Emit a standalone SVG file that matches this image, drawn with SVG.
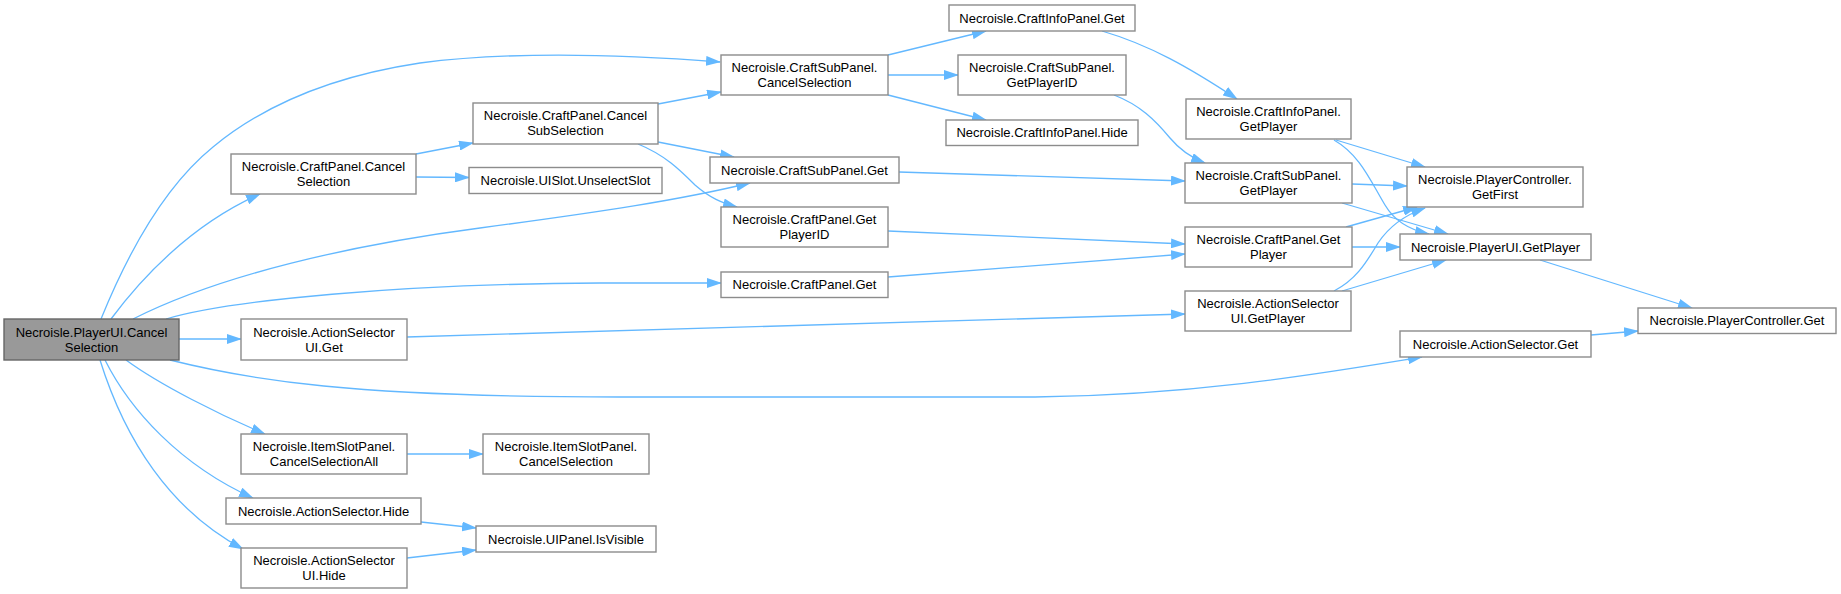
<svg xmlns="http://www.w3.org/2000/svg" width="1841" height="594" viewBox="0 0 1841 594">
<style>
.n rect{fill:#fff;stroke:#8c8c8c;stroke-width:1.4}
.root rect{fill:#999;stroke:#666}
text{font-family:"Liberation Sans",Arial,sans-serif;font-size:13px;fill:#000;text-anchor:middle}
.e path{fill:none;stroke:#63b8ff;stroke-width:1.3;marker-end:url(#ah)}
</style>
<defs>
<marker id="ah" markerUnits="userSpaceOnUse" markerWidth="15" markerHeight="10" refX="14" refY="5" orient="auto"><path d="M0,0 L15,5 L0,10 z" fill="#63b8ff"/></marker>
</defs>
<rect width="1841" height="594" fill="#fff"/>
<g class="e" id="edges">
<path d="M101,319 C125,260 160,190 213,147 C270,100 340,75 420,63 C520,50 630,55 720,62"/>
<path d="M111,319 C140,280 190,225 260,194"/>
<path d="M133,319 C220,275 350,245 480,228 C600,212 680,200 750,183"/>
<path d="M166,319 C230,300 400,284 600,283 L721,283"/>
<path d="M179,339 L241,339"/>
<path d="M170,360 C250,380 350,397 620,397 L1035,397 C1200,395 1330,372 1422,357"/>
<path d="M126,360 C160,385 220,415 265,434"/>
<path d="M105,360 C130,410 180,465 253,498"/>
<path d="M100,360 C125,440 170,510 243,549"/>
<path d="M416,154 L473,143"/>
<path d="M416,177 L469,177.5"/>
<path d="M658,104 L721,92"/>
<path d="M658,142 L734,157"/>
<path d="M638,144 C665,155 680,170 695,185 C710,198 722,203 737,207"/>
<path d="M888,55 L986,31"/>
<path d="M888,75 L958,75"/>
<path d="M888,95 L986,120"/>
<path d="M1102,31 C1150,45 1190,68 1237,99"/>
<path d="M1114,95 C1140,105 1155,120 1170,138 C1180,150 1192,158 1205,163"/>
<path d="M899,172 L1185,181"/>
<path d="M888,231 L1185,244"/>
<path d="M888,277 L1185,254"/>
<path d="M407,337 L1185,314"/>
<path d="M1336,140 L1425,167"/>
<path d="M1334,140 C1360,155 1370,180 1385,205 C1395,222 1410,230 1429,234"/>
<path d="M1352,184 L1407,186"/>
<path d="M1342,203 L1448,234"/>
<path d="M1346,227 L1417,207"/>
<path d="M1352,247 L1400,247"/>
<path d="M1334,291 C1355,280 1365,265 1378,243 C1390,225 1405,215 1425,208"/>
<path d="M1342,291 L1446,260"/>
<path d="M1540,260 L1692,308"/>
<path d="M1591,335 L1638,331"/>
<path d="M407,454 L483,454"/>
<path d="M421,522 L476,528"/>
<path d="M407,558 L476,550"/>
</g>
<g class="n root" id="n_PlayerUI_CancelSelection"><rect x="4" y="319" width="175" height="41"/><text x="91.5" y="336.5">Necroisle.PlayerUI.Cancel</text><text x="91.5" y="351.5">Selection</text></g>
<g class="n" id="n_CraftPanel_CancelSelection"><rect x="231" y="154" width="185" height="40"/><text x="323.5" y="170.5">Necroisle.CraftPanel.Cancel</text><text x="323.5" y="185.5">Selection</text></g>
<g class="n" id="n_CraftPanel_CancelSubSelection"><rect x="473" y="103" width="185" height="41"/><text x="565.5" y="120">Necroisle.CraftPanel.Cancel</text><text x="565.5" y="135">SubSelection</text></g>
<g class="n" id="n_UISlot_UnselectSlot"><rect x="469" y="167.5" width="193" height="26"/><text x="565.5" y="185">Necroisle.UISlot.UnselectSlot</text></g>
<g class="n" id="n_CraftSubPanel_CancelSelection"><rect x="721" y="55" width="167" height="40"/><text x="804.5" y="71.5">Necroisle.CraftSubPanel.</text><text x="804.5" y="86.5">CancelSelection</text></g>
<g class="n" id="n_CraftInfoPanel_Get"><rect x="949" y="5" width="186" height="26"/><text x="1042" y="22.5">Necroisle.CraftInfoPanel.Get</text></g>
<g class="n" id="n_CraftSubPanel_GetPlayerID"><rect x="958" y="55" width="168" height="40"/><text x="1042" y="71.5">Necroisle.CraftSubPanel.</text><text x="1042" y="86.5">GetPlayerID</text></g>
<g class="n" id="n_CraftInfoPanel_Hide"><rect x="946" y="120" width="192" height="25.5"/><text x="1042" y="137">Necroisle.CraftInfoPanel.Hide</text></g>
<g class="n" id="n_CraftSubPanel_Get"><rect x="710" y="157" width="189" height="26"/><text x="804.5" y="174.5">Necroisle.CraftSubPanel.Get</text></g>
<g class="n" id="n_CraftPanel_GetPlayerID"><rect x="721" y="207" width="167" height="40"/><text x="804.5" y="223.5">Necroisle.CraftPanel.Get</text><text x="804.5" y="238.5">PlayerID</text></g>
<g class="n" id="n_CraftPanel_Get"><rect x="721" y="272" width="167" height="25.5"/><text x="804.5" y="289">Necroisle.CraftPanel.Get</text></g>
<g class="n" id="n_CraftInfoPanel_GetPlayer"><rect x="1186" y="99" width="165" height="40"/><text x="1268.5" y="115.5">Necroisle.CraftInfoPanel.</text><text x="1268.5" y="130.5">GetPlayer</text></g>
<g class="n" id="n_CraftSubPanel_GetPlayer"><rect x="1185" y="163" width="167" height="40"/><text x="1268.5" y="179.5">Necroisle.CraftSubPanel.</text><text x="1268.5" y="194.5">GetPlayer</text></g>
<g class="n" id="n_CraftPanel_GetPlayer"><rect x="1185" y="227" width="167" height="40"/><text x="1268.5" y="243.5">Necroisle.CraftPanel.Get</text><text x="1268.5" y="258.5">Player</text></g>
<g class="n" id="n_ActionSelectorUI_GetPlayer"><rect x="1185" y="291" width="166" height="40"/><text x="1268" y="307.5">Necroisle.ActionSelector</text><text x="1268" y="322.5">UI.GetPlayer</text></g>
<g class="n" id="n_PlayerController_GetFirst"><rect x="1407" y="167" width="176" height="40"/><text x="1495" y="183.5">Necroisle.PlayerController.</text><text x="1495" y="198.5">GetFirst</text></g>
<g class="n" id="n_PlayerUI_GetPlayer"><rect x="1400" y="234" width="191" height="26"/><text x="1495.5" y="251.5">Necroisle.PlayerUI.GetPlayer</text></g>
<g class="n" id="n_ActionSelector_Get"><rect x="1400" y="331" width="191" height="26"/><text x="1495.5" y="348.5">Necroisle.ActionSelector.Get</text></g>
<g class="n" id="n_PlayerController_Get"><rect x="1638" y="308" width="198" height="25.5"/><text x="1737" y="325">Necroisle.PlayerController.Get</text></g>
<g class="n" id="n_ActionSelectorUI_Get"><rect x="241" y="319" width="166" height="41"/><text x="324" y="336.5">Necroisle.ActionSelector</text><text x="324" y="351.5">UI.Get</text></g>
<g class="n" id="n_ItemSlotPanel_CancelSelectionAll"><rect x="241" y="434" width="166" height="40"/><text x="324" y="450.5">Necroisle.ItemSlotPanel.</text><text x="324" y="465.5">CancelSelectionAll</text></g>
<g class="n" id="n_ItemSlotPanel_CancelSelection"><rect x="483" y="434" width="166" height="40"/><text x="566" y="450.5">Necroisle.ItemSlotPanel.</text><text x="566" y="465.5">CancelSelection</text></g>
<g class="n" id="n_ActionSelector_Hide"><rect x="226" y="498" width="195" height="26"/><text x="323.5" y="515.5">Necroisle.ActionSelector.Hide</text></g>
<g class="n" id="n_ActionSelectorUI_Hide"><rect x="241" y="548" width="166" height="40"/><text x="324" y="564.5">Necroisle.ActionSelector</text><text x="324" y="579.5">UI.Hide</text></g>
<g class="n" id="n_UIPanel_IsVisible"><rect x="476" y="526" width="180" height="26"/><text x="566" y="543.5">Necroisle.UIPanel.IsVisible</text></g>
</svg>
